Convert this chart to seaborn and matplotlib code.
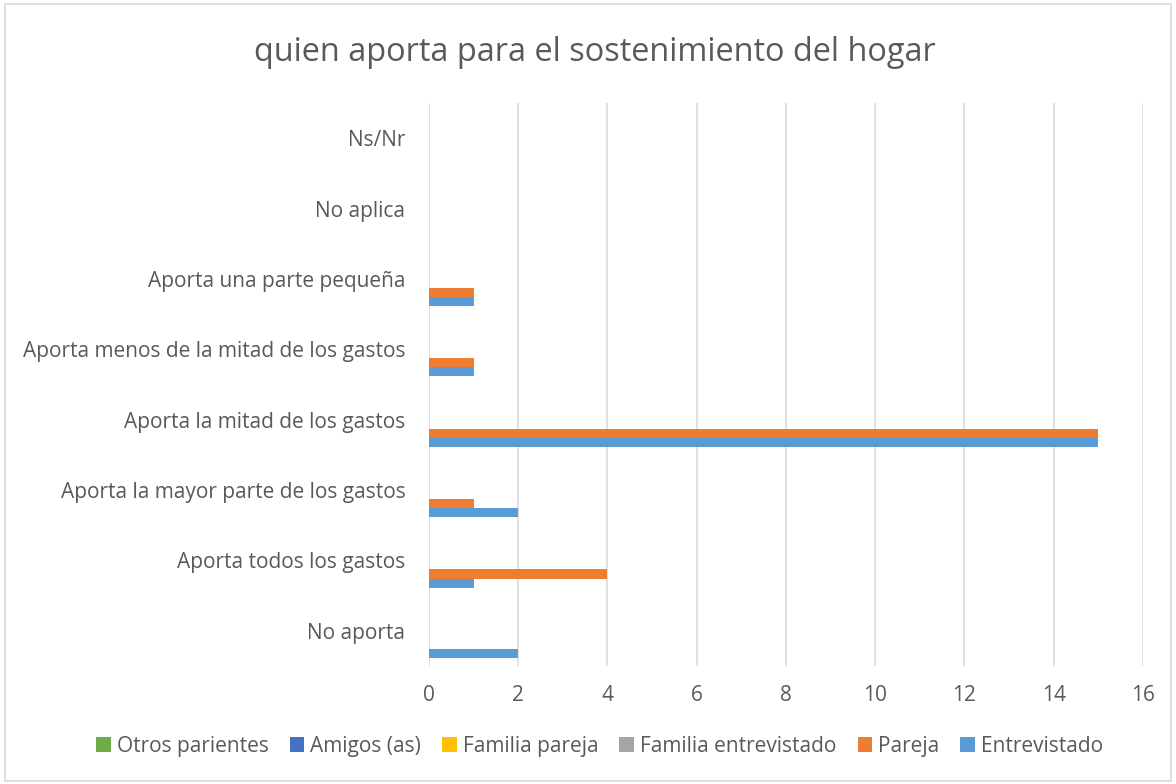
import matplotlib
matplotlib.use("Agg")
import matplotlib.pyplot as plt
import seaborn as sns
import pandas as pd
from matplotlib.patches import Rectangle

categories = [
    "Ns/Nr",
    "No aplica",
    "Aporta una parte pequeña",
    "Aporta menos de la mitad de los gastos",
    "Aporta la mitad de los gastos",
    "Aporta la mayor parte de los gastos",
    "Aporta todos los gastos",
    "No aporta",
]
series = ["Otros parientes", "Amigos (as)", "Familia pareja",
          "Familia entrevistado", "Pareja", "Entrevistado"]
entrevistado = [0, 0, 1, 1, 15, 2, 1, 2]
pareja = [0, 0, 1, 1, 15, 1, 4, 0]
familia_entrevistado = [0] * 8
familia_pareja = [0] * 8
amigos = [0] * 8
otros = [0] * 8
colors = ["#70AD47", "#4472C4", "#FFC000", "#A5A5A5", "#ED7D31", "#5B9BD5"]

values = {
    "Otros parientes": otros,
    "Amigos (as)": amigos,
    "Familia pareja": familia_pareja,
    "Familia entrevistado": familia_entrevistado,
    "Pareja": pareja,
    "Entrevistado": entrevistado,
}
rows = []
for s in series:
    for c, v in zip(categories, values[s]):
        rows.append({"cat": c, "serie": s, "val": v})
df = pd.DataFrame(rows)

sns.set_theme(style="white")
plt.rcParams["font.family"] = ["Open Sans", "DejaVu Sans"]

fig = plt.figure(figsize=(11.76, 7.84), dpi=100)
ax = fig.add_axes([0.3648, 0.1505, 0.9719 - 0.3648, 0.8686 - 0.1505])

sns.barplot(data=df, y="cat", x="val", hue="serie", order=categories,
            hue_order=series, palette=colors, orient="h", width=0.77,
            linewidth=0, saturation=1, ax=ax, legend=True)

ax.set_xlim(0, 16)
ax.set_xticks(range(0, 17, 2))
ax.set_xlabel("")
ax.set_ylabel("")
for sp in ax.spines.values():
    sp.set_visible(False)
ax.grid(axis="x", color="#D9D9D9", linewidth=1.1)
ax.set_axisbelow(True)
ax.tick_params(axis="both", length=0, colors="#595959", labelsize=15)
ax.tick_params(axis="x", pad=14)
ax.tick_params(axis="y", pad=17)

fig.text(0.506, 0.933, "quien aporta para el sostenimiento del hogar",
         ha="center", va="center", fontsize=23.4, color="#595959")

handles, labels = ax.get_legend_handles_labels()
ax.legend_.remove()
fig.legend(handles, labels, loc="center", bbox_to_anchor=(0.510, 0.048),
           ncol=6, frameon=False, fontsize=15, handlelength=0.7,
           handleheight=0.7, handletextpad=0.3, columnspacing=1.0,
           labelcolor="#595959")

fig.patches.append(Rectangle((0.004, 0.004), 0.992, 0.991, transform=fig.transFigure,
                             fill=False, edgecolor="#D9D9D9", linewidth=1.2))

fig.savefig("out.png", dpi=100, facecolor="white")
